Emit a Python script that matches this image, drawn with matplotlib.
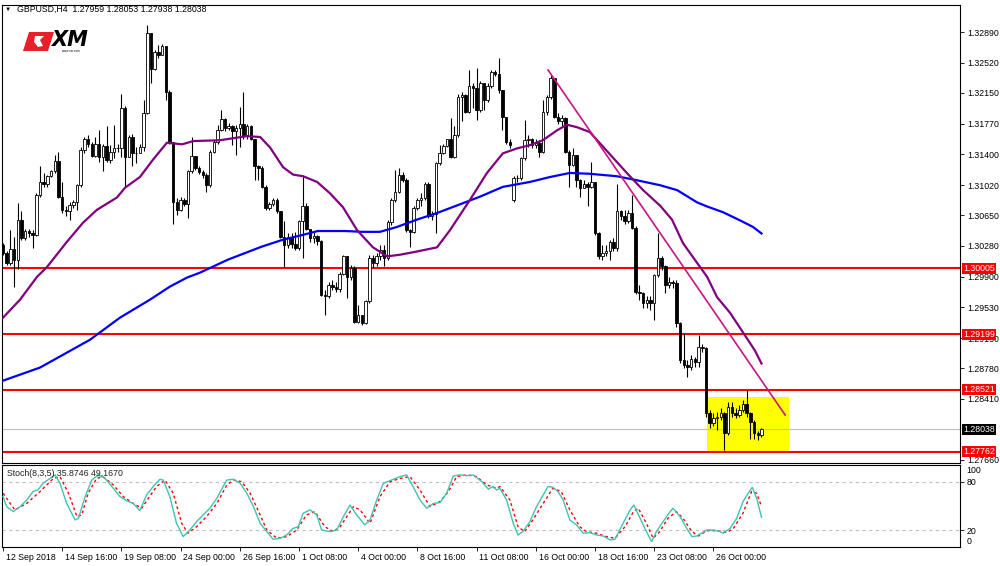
import numpy as np
import matplotlib
matplotlib.use("Agg")
import matplotlib.pyplot as plt
import matplotlib.transforms as mtransforms
from matplotlib.patches import Rectangle, Polygon

plt.rcParams['font.family'] = ['Liberation Sans', 'DejaVu Sans']

# GBPUSD H4 candles, 12 Sep - 30 Oct 2018
first_open = 1.3029
gap_opens = {138: 1.3084}  # weekend gap on Mon 15 Oct

closes = [1.3019, 1.3007, 1.3024, 1.3011, 1.3060, 1.3037, 1.3046, 1.3043, 1.3041, 1.3090,
          1.3106, 1.3104, 1.3113, 1.3119, 1.3132, 1.3088, 1.3072, 1.3070, 1.3078, 1.3081,
          1.3102, 1.3145, 1.3158, 1.3153, 1.3138, 1.3152, 1.3137, 1.3150, 1.3133, 1.3143,
          1.3147, 1.3148, 1.3196, 1.3137, 1.3161, 1.3141, 1.3142, 1.3149, 1.3190, 1.3288,
          1.3244, 1.3265, 1.3261, 1.3272, 1.3216, 1.3155, 1.3082, 1.3072, 1.3084, 1.3079,
          1.3119, 1.3138, 1.3123, 1.3118, 1.3114, 1.3102, 1.3143, 1.3155, 1.3170, 1.3183,
          1.3172, 1.3175, 1.3168, 1.3172, 1.3177, 1.3164, 1.3174, 1.3159, 1.3125, 1.3123,
          1.3100, 1.3074, 1.3079, 1.3084, 1.3070, 1.3039, 1.3029, 1.3039, 1.3030, 1.3025,
          1.3058, 1.3076, 1.3049, 1.3038, 1.3040, 1.3034, 1.2968, 1.2967, 1.2980, 1.2978,
          1.2975, 1.2994, 1.3015, 1.2990, 1.3001, 1.2935, 1.2943, 1.2934, 1.2960, 1.3013,
          1.3007, 1.3016, 1.3023, 1.3013, 1.3057, 1.3084, 1.3094, 1.3115, 1.3108, 1.3047,
          1.3045, 1.3074, 1.3084, 1.3086, 1.3104, 1.3064, 1.3067, 1.3129, 1.3141, 1.3150,
          1.3158, 1.3137, 1.3164, 1.3210, 1.3212, 1.3192, 1.3223, 1.3221, 1.3194, 1.3227,
          1.3206, 1.3223, 1.3240, 1.3238, 1.3218, 1.3186, 1.3155, 1.3151, 1.3111, 1.3111,
          1.3135, 1.3157, 1.3158, 1.3151, 1.3154, 1.3143, 1.3192, 1.3210, 1.3233, 1.3186,
          1.3180, 1.3184, 1.3143, 1.3127, 1.3139, 1.3108, 1.3098, 1.3104, 1.3100, 1.3106,
          1.3043, 1.3015, 1.3019, 1.3022, 1.3033, 1.3025, 1.3070, 1.3064, 1.3058, 1.3068,
          1.3050, 1.2972, 1.2970, 1.2958, 1.2962, 1.2958, 1.2992, 1.3013, 1.3003, 1.2980,
          1.2984, 1.2982, 1.2933, 1.2888, 1.2882, 1.2880, 1.2890, 1.2886, 1.2904, 1.2903,
          1.2823, 1.2811, 1.2817, 1.2819, 1.2823, 1.2799, 1.2831, 1.2823, 1.2821, 1.2827,
          1.2835, 1.2823, 1.2813, 1.2799, 1.2796, 1.28038]

highs = [1.3031, 1.3021, 1.3047, 1.3039, 1.3080, 1.3070, 1.3049, 1.3049, 1.3047, 1.3092,
         1.3125, 1.3117, 1.3115, 1.3121, 1.3139, 1.3143, 1.3106, 1.3076, 1.3082, 1.3084,
         1.3104, 1.3149, 1.3161, 1.3163, 1.3155, 1.3161, 1.3170, 1.3153, 1.3174, 1.3151,
         1.3176, 1.3153, 1.3214, 1.3199, 1.3163, 1.3165, 1.3149, 1.3153, 1.3206, 1.3298,
         1.3288, 1.3267, 1.3273, 1.3275, 1.3272, 1.3218, 1.3155, 1.3086, 1.3088, 1.3086,
         1.3121, 1.3161, 1.3138, 1.3125, 1.3121, 1.3117, 1.3145, 1.3157, 1.3176, 1.3194,
         1.3184, 1.3178, 1.3176, 1.3176, 1.3198, 1.3216, 1.3177, 1.3176, 1.3159, 1.3127,
         1.3125, 1.3102, 1.3082, 1.3086, 1.3086, 1.3070, 1.3058, 1.3043, 1.3043, 1.3045,
         1.3060, 1.3113, 1.3080, 1.3043, 1.3045, 1.3041, 1.3035, 1.2974, 1.2984, 1.2986,
         1.2984, 1.2996, 1.3017, 1.3016, 1.3005, 1.3003, 1.2956, 1.2943, 1.2962, 1.3017,
         1.3017, 1.3019, 1.3029, 1.3029, 1.3060, 1.3086, 1.3121, 1.3123, 1.3118, 1.3111,
         1.3049, 1.3076, 1.3086, 1.3092, 1.3106, 1.3106, 1.3070, 1.3131, 1.3151, 1.3153,
         1.3159, 1.3184, 1.3174, 1.3214, 1.3216, 1.3214, 1.3243, 1.3227, 1.3245, 1.3229,
         1.3227, 1.3227, 1.3243, 1.3243, 1.3257, 1.3218, 1.3186, 1.3158, 1.3113, 1.3115,
         1.3137, 1.3182, 1.3163, 1.3160, 1.3159, 1.3157, 1.3206, 1.3212, 1.3237, 1.3233,
         1.3190, 1.3188, 1.3186, 1.3145, 1.3147, 1.3139, 1.3110, 1.3108, 1.3106, 1.3130,
         1.3106, 1.3045, 1.3029, 1.3029, 1.3035, 1.3037, 1.3104, 1.3072, 1.3072, 1.3072,
         1.3090, 1.3052, 1.2980, 1.2972, 1.2966, 1.2966, 1.2994, 1.3043, 1.3015, 1.3005,
         1.2990, 1.2986, 1.2986, 1.2935, 1.2921, 1.2888, 1.2894, 1.2892, 1.2919, 1.2908,
         1.2904, 1.2827, 1.2823, 1.2825, 1.2830, 1.2825, 1.2837, 1.2837, 1.2829, 1.2833,
         1.2839, 1.2852, 1.2825, 1.2815, 1.2801, 1.28053]

lows = [1.3017, 1.3005, 1.3005, 1.2978, 1.3000, 1.3035, 1.3035, 1.3039, 1.3025, 1.3040,
        1.3088, 1.3100, 1.3100, 1.3112, 1.3117, 1.3086, 1.3068, 1.3064, 1.3060, 1.3074,
        1.3072, 1.3100, 1.3142, 1.3149, 1.3136, 1.3137, 1.3131, 1.3119, 1.3131, 1.3129,
        1.3135, 1.3143, 1.3137, 1.3100, 1.3136, 1.3125, 1.3129, 1.3141, 1.3144, 1.3189,
        1.3227, 1.3243, 1.3258, 1.3261, 1.3206, 1.3153, 1.3055, 1.3066, 1.3070, 1.3076,
        1.3062, 1.3117, 1.3121, 1.3116, 1.3111, 1.3094, 1.3100, 1.3141, 1.3153, 1.3168,
        1.3168, 1.3170, 1.3151, 1.3139, 1.3149, 1.3159, 1.3159, 1.3157, 1.3108, 1.3108,
        1.3098, 1.3072, 1.3072, 1.3076, 1.3068, 1.3037, 1.3002, 1.3025, 1.3025, 1.3023,
        1.3023, 1.3013, 1.3047, 1.3033, 1.3031, 1.3029, 1.2966, 1.2943, 1.2964, 1.2974,
        1.2972, 1.2972, 1.2992, 1.2964, 1.2986, 1.2933, 1.2933, 1.2931, 1.2932, 1.2958,
        1.3001, 1.3003, 1.3011, 1.3003, 1.3011, 1.3053, 1.3082, 1.3092, 1.3106, 1.3045,
        1.3027, 1.3043, 1.3072, 1.3076, 1.3084, 1.3062, 1.3059, 1.3043, 1.3127, 1.3140,
        1.3149, 1.3135, 1.3135, 1.3161, 1.3180, 1.3190, 1.3190, 1.3196, 1.3182, 1.3192,
        1.3194, 1.3204, 1.3221, 1.3235, 1.3215, 1.3170, 1.3152, 1.3148, 1.3082, 1.3106,
        1.3108, 1.3133, 1.3149, 1.3148, 1.3147, 1.3137, 1.3141, 1.3188, 1.3208, 1.3184,
        1.3177, 1.3175, 1.3141, 1.3100, 1.3125, 1.3100, 1.3088, 1.3098, 1.3076, 1.3098,
        1.3041, 1.3012, 1.3010, 1.3015, 1.3010, 1.3021, 1.3022, 1.3060, 1.3055, 1.3056,
        1.3048, 1.2969, 1.2962, 1.2952, 1.2952, 1.2950, 1.2937, 1.2990, 1.2998, 1.2970,
        1.2976, 1.2976, 1.2929, 1.2884, 1.2878, 1.2868, 1.2876, 1.2880, 1.2880, 1.2898,
        1.2819, 1.2805, 1.2808, 1.2803, 1.2815, 1.2778, 1.2797, 1.2819, 1.2817, 1.2819,
        1.2825, 1.2819, 1.2792, 1.2792, 1.2791, 1.27938]

# moving averages (purple = fast, blue = slow), read at bar positions
purple_x = [0, 4.6, 9.2, 11.9, 17.3, 21.6, 25.4, 30.8, 33.0, 37.0,
            40.5, 44.3, 48.4, 51.4, 58.6, 65.9, 69.5, 72.2, 75.7, 78.4,
            81.1, 84.9, 88.4, 91.9, 95.7, 100.0, 103.8, 107.3, 110.8, 117.3,
            120.8, 126.2, 130.8, 135.1, 138.9, 142.4, 145.9, 149.7, 152.4, 155.1,
            158.6, 162.2, 168.6, 173.0, 177.6, 180.8, 183.8, 187.6, 190.3, 193.0,
            196.5, 200.0, 203.2, 205]
purple_y = [1.2940, 1.2962, 1.2990, 1.3002, 1.3033, 1.3056, 1.3072, 1.3087, 1.3099, 1.3112,
            1.3133, 1.3154, 1.3152, 1.3156, 1.3157, 1.3162, 1.3161, 1.3148, 1.3124, 1.3115,
            1.3113, 1.3106, 1.3092, 1.3075, 1.3047, 1.3026, 1.3015, 1.3017, 1.3020, 1.3026,
            1.3047, 1.3084, 1.3117, 1.3141, 1.3147, 1.3151, 1.3157, 1.3169, 1.3176, 1.3173,
            1.3167, 1.3149, 1.3117, 1.3096, 1.3077, 1.3060, 1.3031, 1.3007, 1.2990, 1.2965,
            1.2946, 1.2922, 1.2900, 1.2884]

blue_x = [0, 10, 23.5, 31.6, 39.7, 45.1, 49.7, 53.2, 60.8, 70.0,
          75.4, 80.8, 85.1, 92.4, 97.0, 101.9, 106.5, 111.9, 117.3, 124.3,
          128.9, 135.1, 142.4, 147.8, 153.2, 158.6, 165.9, 171.4, 177.6, 182.2,
          187.6, 190.3, 194.6, 199.2, 202.7, 205]
blue_y = [1.2863, 1.2879, 1.2913, 1.2940, 1.2962, 1.2978, 1.2989, 1.2995, 1.3011, 1.3027,
          1.3035, 1.3041, 1.3046, 1.3046, 1.3045, 1.3045, 1.3051, 1.3060, 1.3068, 1.3080,
          1.3088, 1.3100, 1.3106, 1.3112, 1.3117, 1.3116, 1.3113, 1.3108, 1.3102, 1.3096,
          1.3081, 1.3076, 1.3069, 1.3059, 1.3051, 1.3043]

# horizontal levels, trendline, box
levels = [1.30005, 1.29199, 1.28521, 1.27762]
last_price = 1.28038
trend_x = [147.3, 211.4]
trend_y = [1.3243, 1.2821]
box_x = [190.3, 212.4]
box_y = [1.27747, 1.28432]

# 1.28040 sits fully under the last-price box, so it is left out
price_ticks = [1.32890, 1.32520, 1.32150, 1.31770, 1.31400, 1.31020, 1.30650, 1.30280,
               1.29900, 1.29530, 1.29150, 1.28780, 1.28410, 1.27660]

# stochastic (8,3,5)
k_x = [0, 1, 2.8, 4.6, 6.4, 8.1, 9.5, 10.8, 12.7, 14.1,
       15.4, 17.2, 19.5, 20.4, 22.2, 24.0, 25.8, 27.6, 29.8, 31.6,
       33.4, 35.2, 37.0, 38.8, 40.6, 42.4, 43.3, 45.1, 46.9, 48.7,
       50.5, 52.3, 54.1, 55.9, 57.8, 59.5, 60.5, 62.3, 64.1, 65.9,
       67.7, 69.5, 71.3, 73.0, 74.9, 76.7, 78.4, 79.8, 81.1, 83.0,
       84.8, 86.1, 88.4, 90.2, 92.0, 93.8, 95.6, 97.8, 99.2, 101.0,
       102.8, 105.0, 107.3, 109.1, 110.8, 112.7, 114.5, 116.3, 118.1, 119.9,
       121.7, 123.5, 125.3, 127.1, 129.4, 131.2, 132.4, 133.4, 134.3, 136.1,
       137.9, 139.2, 140.5, 142.4, 144.2, 146.0, 147.3, 148.6, 150.0, 151.4,
       153.2, 155.0, 156.8, 158.6, 160.4, 162.2, 164.1, 165.4, 167.6, 169.5,
       170.5, 172.2, 173.9, 175.3, 176.6, 178.4, 180.3, 181.1, 183.0, 184.8,
       186.2, 187.5, 188.8, 190.2, 192.0, 193.8, 194.6, 196.5, 198.3, 200.0,
       201.4, 202.5, 203.7, 205.0]
k_v = [61.5, 49, 42.8, 49, 57, 67.7, 70, 78, 84, 88.4,
       78, 53, 32.5, 34.5, 61.5, 82, 88.4, 84, 71.8, 61.5,
       56.5, 53, 44, 63.5, 74, 83, 82, 61.5, 28.3, 11.8,
       20, 30.4, 38.7, 47, 59.4, 74, 82, 83, 78, 65.6,
       49, 28.3, 18, 8.5, 9.7, 13.9, 22, 24, 40.8, 45,
       38.7, 20, 18, 20, 36.6, 51, 38.7, 26.3, 32.5, 57.3,
       78, 82, 86.3, 88.4, 74, 57.3, 47, 53, 54, 65.6,
       87, 88.4, 87.5, 88.4, 80, 70.6, 74, 69.7, 71.8, 57.3,
       28.3, 13.8, 18, 30.4, 49, 63.5, 74, 73, 67.7, 57.3,
       32.5, 26.3, 16, 16.8, 13.8, 12.6, 7.6, 8.5, 28.3, 44.9,
       51, 34.5, 18, 5.6, 18, 30.4, 42.8, 47, 36.6, 22,
       11.8, 12.6, 16, 20, 20, 18, 16, 22, 34.5, 55.3,
       65.6, 73, 59.4, 35.87]
d_x = [0, 3.2, 6.4, 10.0, 13.6, 15.4, 17.7, 20.0, 21.3, 23.0,
       25.3, 27.0, 29.8, 32.5, 35.2, 37.5, 39.3, 41.5, 43.8, 46.0,
       48.3, 50.0, 52.3, 55.0, 57.8, 60.5, 62.3, 64.5, 66.8, 69.5,
       71.3, 74.0, 76.7, 79.4, 82.0, 84.3, 87.0, 89.3, 91.1, 94.7,
       96.5, 99.2, 101.9, 104.6, 107.3, 110.0, 112.7, 115.4, 118.0, 120.4,
       122.6, 125.3, 128.0, 130.7, 133.4, 134.3, 137.0, 139.2, 141.0, 143.2,
       146.0, 148.6, 150.9, 153.2, 155.9, 157.7, 160.4, 163.1, 165.4, 168.1,
       170.4, 171.7, 173.9, 175.7, 177.5, 179.7, 182.0, 183.8, 186.2, 188.0,
       190.2, 192.9, 195.6, 197.4, 200.0, 202.3, 203.7, 205.0]
d_v = [65.6, 45, 53, 67.7, 84, 86.3, 65.6, 36.6, 38.7, 65.6,
       84, 86.3, 76, 61.5, 53, 47, 59.4, 74, 82, 65.6,
       28.3, 16, 24, 36.6, 53, 76, 82, 80, 65.6, 38.7,
       20, 9.7, 11.8, 20, 38.7, 42.8, 24, 18, 24, 49,
       45, 28.3, 61.5, 80, 84, 86.3, 69.7, 49, 55, 67.7,
       86.3, 88.4, 86.3, 76, 71.8, 74, 57.3, 24, 18, 32.5,
       53, 71.8, 67.7, 45, 24, 18, 16, 11.8, 9.7, 24,
       42.8, 47, 28.3, 9.7, 18, 34.5, 42.8, 34.5, 18, 12.6,
       19.2, 19.2, 16.8, 22, 40.8, 67.7, 65.6, 49.17]

date_bars = [0, 16, 32, 48, 64, 80, 96, 112, 128, 144, 160, 176, 192]
date_labels = ['12 Sep 2018', '14 Sep 16:00', '19 Sep 08:00', '24 Sep 00:00', '26 Sep 16:00',
               '1 Oct 08:00', '4 Oct 00:00', '8 Oct 16:00', '11 Oct 08:00', '16 Oct 00:00',
               '18 Oct 16:00', '23 Oct 08:00', '26 Oct 00:00']

FS = 6.3
W, H = 1000, 566
fig = plt.figure(figsize=(10, 5.66), dpi=100)
ax = fig.add_axes([2 / W, 1 - 463 / H, 958 / W, 458 / H])
axs = fig.add_axes([2 / W, 1 - 547 / H, 958 / W, 82 / H])

xlim = (-0.27, 258.65)

# ---- price panel ----
c = np.array(closes)
o = np.concatenate([[first_open], c[:-1]])
for i, v in gap_opens.items():
    o[i] = v
hi = np.maximum(np.array(highs), np.maximum(o, c))
lo = np.minimum(np.array(lows), np.minimum(o, c))
idx = np.arange(len(c))
up = c >= o

ax.add_patch(Rectangle((box_x[0], box_y[0]), box_x[1] - box_x[0], box_y[1] - box_y[0],
                       facecolor='#FFFF00', edgecolor='none', zorder=1))
ax.axhline(last_price, color='#C0C0C0', lw=0.8, zorder=1.5)
for lv in levels:
    ax.axhline(lv, color='#FF0000', lw=1.5, zorder=2)

ax.vlines(idx, lo, hi, color='black', lw=0.8, zorder=3)
body = np.maximum(np.abs(c - o), 0.00003)
ax.bar(idx[up], body[up], bottom=o[up], width=0.7, color='white',
       edgecolor='black', linewidth=0.6, zorder=4)
ax.bar(idx[~up], body[~up], bottom=c[~up], width=0.7, color='black',
       edgecolor='black', linewidth=0.6, zorder=4)

ax.plot(blue_x, blue_y, color='#0000FF', lw=1.6, zorder=5)
ax.plot(purple_x, purple_y, color='#800080', lw=1.6, zorder=5)
ax.plot(trend_x, trend_y, color='#C71585', lw=1.2, zorder=6)

ax.set_xlim(*xlim)
ax.set_ylim(1.27623, 1.33224)
ax.set_xticks([])
ax.yaxis.tick_right()
ax.set_yticks(price_ticks)
ax.set_yticklabels(['%.5f' % t for t in price_ticks])
ax.tick_params(axis='y', direction='out', length=3, width=0.6, labelsize=FS, pad=2)

blend = mtransforms.blended_transform_factory(ax.transAxes, ax.transData)
for lv in levels:
    ax.text(1.0037, lv, '%.5f' % lv, transform=blend, color='white', fontsize=FS,
            va='center', ha='left', zorder=10, clip_on=False,
            bbox=dict(boxstyle='square,pad=0.12', fc='#FF0000', ec='none'))
ax.text(1.0037, last_price, '%.5f' % last_price, transform=blend, color='white', fontsize=FS,
        va='center', ha='left', zorder=10, clip_on=False,
        bbox=dict(boxstyle='square,pad=0.12', fc='black', ec='none'))

for sp in ax.spines.values():
    sp.set_linewidth(0.8)

# header text and logo
fig.text(5 / W, 1 - 9 / H, '\u25BC', fontsize=4.5, va='center', ha='left')
fig.text(17 / W, 1 - 9 / H, 'GBPUSD,H4  1.27959 1.28053 1.27938 1.28038',
         fontsize=FS, va='center', ha='left')
logo = [(29, 32), (54, 32), (48, 51), (23, 51)]
fig.patches.append(Polygon([(x / W, 1 - y / H) for x, y in logo], closed=True,
                           transform=fig.transFigure, fc='#E8202A', ec='none'))
notch = [(35, 36), (44, 36), (40, 40), (43, 46), (38, 47), (34, 42)]
fig.patches.append(Polygon([(x / W, 1 - y / H) for x, y in notch], closed=True,
                           transform=fig.transFigure, fc='white', ec='none'))
fig.text(51 / W, 1 - 40 / H, 'XM', fontsize=15, fontweight='bold', fontstyle='italic',
         family='DejaVu Sans', va='center', ha='left', color='black')
fig.text(62 / W, 1 - 50.5 / H, 'www.xm.com', fontsize=2.2, va='center', ha='left')

# ---- stochastic panel ----
axs.axhline(80, color='#C0C0C0', lw=0.8, ls=(0, (3, 3)), zorder=1)
axs.axhline(20, color='#C0C0C0', lw=0.8, ls=(0, (3, 3)), zorder=1)
axs.plot(k_x, k_v, color='#3EC4B4', lw=1.0, zorder=3)
axs.plot(d_x, d_v, color='#FF0000', lw=1.0, ls=(0, (2, 2)), zorder=2)
axs.set_xlim(*xlim)
axs.set_ylim(-1.1, 100.7)
axs.yaxis.tick_right()
axs.set_yticks([80, 20])
axs.set_yticklabels(['80', '20'])
axs.tick_params(axis='y', direction='out', length=3, width=0.6, labelsize=FS, pad=2)
sblend = mtransforms.blended_transform_factory(axs.transAxes, axs.transData)
axs.text(1.0065, 100, '100', transform=sblend, fontsize=FS, va='top', ha='left', clip_on=False)
axs.text(1.0065, 0, '0', transform=sblend, fontsize=FS, va='bottom', ha='left', clip_on=False)
axs.text(5 / 958, 0.9, 'Stoch(8,3,5) 35.8746 49.1670', transform=axs.transAxes,
         fontsize=FS, va='center', ha='left', color='#222222')

axs.set_xticks(date_bars)
axs.set_xticklabels(date_labels)
axs.tick_params(axis='x', direction='out', length=3, width=0.6, labelsize=FS, pad=1)
offset = mtransforms.ScaledTranslation(2 / 72, 0, fig.dpi_scale_trans)
for lab in axs.get_xticklabels():
    lab.set_horizontalalignment('left')
    lab.set_transform(lab.get_transform() + offset)
for sp in axs.spines.values():
    sp.set_linewidth(0.8)

fig.savefig('out.png', dpi=100, facecolor='white')
